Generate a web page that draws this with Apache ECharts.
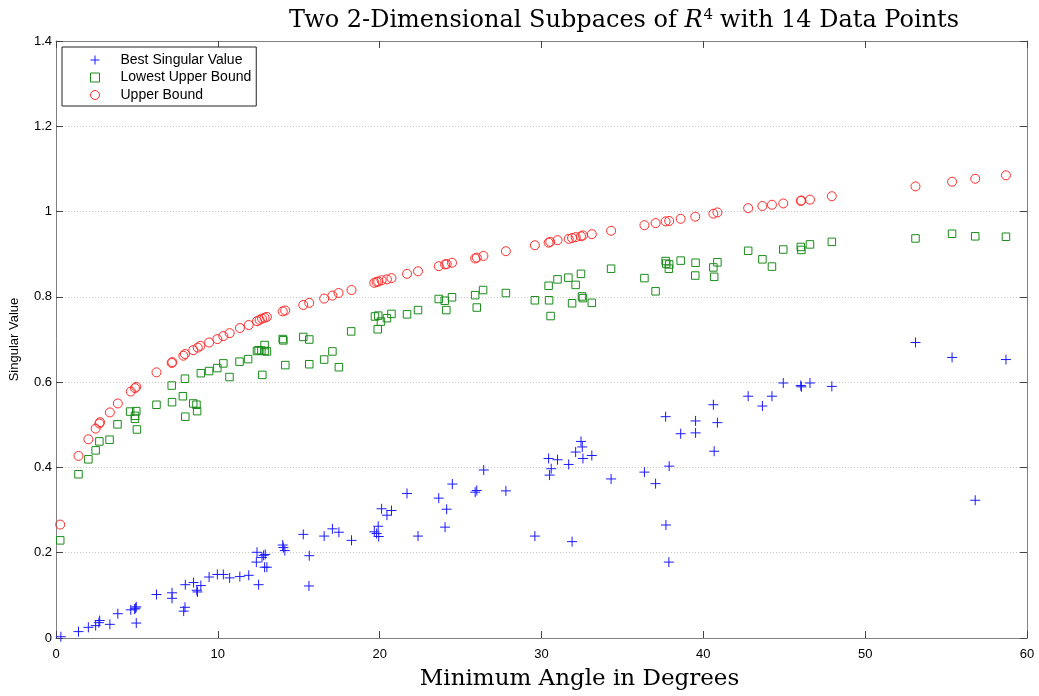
<!DOCTYPE html>
<html>
<head>
<meta charset="utf-8">
<script src="https://cdn.jsdelivr.net/npm/echarts@6/dist/echarts.min.js"></script>
<style>
  html, body { margin: 0; padding: 0; background: #fff; overflow: hidden; }
  #chart { width: 1039px; height: 696px; }
</style>
</head>
<body>
<div id="chart"></div>
<script>
// Minimum angle (degrees) vs. singular value, one [angle, value] pair per data point.
const bestSingularValue = [
  [0.3,0.003],[1.39,0.015],[2.0,0.025],[2.45,0.029],[2.65,0.036],[2.7,0.041],[3.33,0.032],[3.82,0.057],
  [4.62,0.066],[4.86,0.068],[4.92,0.070],[4.96,0.073],[4.96,0.035],[6.21,0.102],[7.17,0.106],[7.17,0.093],
  [7.89,0.063],[7.97,0.072],[7.99,0.125],[8.5,0.130],[8.7,0.112],[8.74,0.108],[8.95,0.123],[9.46,0.143],
  [9.97,0.149],[10.34,0.149],[10.73,0.141],[11.36,0.144],[11.91,0.147],[12.38,0.178],[12.42,0.201],[12.52,0.125],
  [12.73,0.189],[12.83,0.194],[12.93,0.196],[12.89,0.166],[13.03,0.166],[14.01,0.218],[14.05,0.212],[14.14,0.205],
  [15.28,0.243],[15.65,0.193],[15.63,0.122],[16.57,0.239],[17.08,0.256],[17.48,0.248],[18.26,0.229],[19.67,0.249],
  [19.81,0.245],[19.91,0.262],[19.94,0.238],[20.12,0.303],[20.45,0.288],[20.73,0.299],[21.69,0.339],[22.37,0.239],
  [23.65,0.328],[24.04,0.260],[24.14,0.302],[24.49,0.361],[25.9,0.342],[26.0,0.346],[26.43,0.394],[27.8,0.345],
  [29.59,0.239],[30.44,0.421],[30.5,0.382],[30.6,0.397],[30.99,0.418],[31.68,0.407],[31.89,0.226],[32.11,0.436],
  [32.44,0.461],[32.52,0.448],[32.56,0.421],[33.11,0.428],[34.3,0.373],[36.36,0.389],[37.05,0.362],[37.67,0.519],
  [37.69,0.265],[37.87,0.178],[37.89,0.403],[38.6,0.479],[39.52,0.509],[39.52,0.481],[40.62,0.547],[40.67,0.438],
  [40.87,0.505],[42.77,0.567],[43.65,0.544],[44.24,0.567],[44.94,0.598],[46.02,0.592],[46.06,0.589],[46.59,0.598],
  [47.94,0.590],[53.11,0.693],[55.37,0.658],[56.8,0.323],[58.7,0.653]
];

const lowestUpperBound = [
  [0.26,0.229],[1.39,0.384],[2.0,0.419],[2.45,0.440],[2.68,0.461],[3.31,0.465],[3.8,0.501],[4.58,0.531],
  [4.88,0.521],[4.88,0.514],[4.96,0.532],[5.0,0.489],[6.21,0.547],[7.15,0.592],[7.17,0.553],[7.84,0.567],
  [7.97,0.608],[7.99,0.519],[8.48,0.550],[8.68,0.547],[8.72,0.532],[8.95,0.621],[9.46,0.626],[9.97,0.633],
  [10.34,0.644],[10.72,0.612],[11.34,0.648],[11.87,0.654],[12.42,0.673],[12.52,0.675],[12.69,0.674],[12.75,0.617],
  [12.89,0.673],[12.89,0.687],[13.03,0.672],[14.01,0.701],[14.05,0.698],[14.17,0.640],[15.28,0.706],[15.65,0.700],
  [15.65,0.642],[16.57,0.653],[17.08,0.672],[17.48,0.635],[18.24,0.719],[19.71,0.754],[19.91,0.756],[19.88,0.724],
  [20.08,0.742],[20.45,0.750],[20.73,0.760],[21.69,0.759],[22.37,0.769],[23.65,0.795],[24.02,0.791],[24.12,0.769],
  [24.47,0.799],[25.9,0.804],[26.0,0.775],[26.39,0.816],[27.8,0.809],[29.59,0.792],[30.44,0.826],[30.47,0.792],
  [30.56,0.755],[30.99,0.841],[31.66,0.845],[31.89,0.785],[32.11,0.828],[32.44,0.854],[32.5,0.801],[32.56,0.797],
  [33.11,0.786],[34.3,0.866],[36.36,0.844],[37.05,0.813],[37.67,0.884],[37.71,0.878],[37.87,0.866],[37.89,0.876],
  [38.6,0.885],[39.52,0.880],[39.5,0.850],[40.62,0.869],[40.87,0.881],[40.67,0.847],[42.77,0.908],[43.65,0.888],
  [44.24,0.871],[44.94,0.911],[46.02,0.917],[46.06,0.910],[46.59,0.923],[47.94,0.929],[53.11,0.937],[55.37,0.948],
  [56.8,0.942],[58.7,0.941]
];

const upperBound = [
  [0.26,0.266],[1.39,0.427],[2.0,0.466],[2.45,0.491],[2.68,0.503],[2.72,0.506],[3.33,0.529],[3.82,0.550],
  [4.62,0.578],[4.88,0.586],[4.96,0.589],[6.21,0.623],[7.15,0.645],[7.19,0.647],[7.87,0.662],[7.97,0.666],
  [8.48,0.675],[8.76,0.681],[8.92,0.685],[9.46,0.693],[9.97,0.701],[10.34,0.708],[10.73,0.715],[11.36,0.727],
  [11.91,0.734],[12.42,0.743],[12.58,0.746],[12.73,0.749],[12.89,0.751],[13.03,0.753],[14.01,0.766],[14.16,0.768],
  [15.28,0.781],[15.65,0.786],[16.57,0.796],[17.08,0.803],[17.46,0.809],[18.26,0.816],[19.67,0.833],[19.81,0.835],
  [19.91,0.836],[20.12,0.839],[20.45,0.841],[20.73,0.844],[21.69,0.854],[22.37,0.860],[23.65,0.872],[24.04,0.876],
  [24.14,0.877],[24.47,0.880],[25.9,0.890],[26.0,0.892],[26.41,0.896],[27.8,0.907],[29.59,0.921],[30.44,0.927],
  [30.54,0.929],[30.99,0.933],[31.68,0.936],[31.89,0.938],[32.11,0.940],[32.44,0.942],[32.56,0.944],[33.11,0.947],
  [34.3,0.955],[36.36,0.968],[37.05,0.973],[37.67,0.977],[37.89,0.978],[38.6,0.983],[39.5,0.988],[40.62,0.995],
  [40.87,0.998],[42.77,1.008],[43.65,1.013],[44.24,1.016],[44.94,1.019],[46.02,1.025],[46.06,1.026],[46.59,1.028],
  [47.94,1.036],[53.11,1.059],[55.37,1.070],[56.8,1.077],[58.7,1.085]
];

const seriesNames = ['Best Singular Value', 'Lowest Upper Bound', 'Upper Bound'];
const xTicks = { min: 0, max: 60, interval: 10 };
const yTicks = { min: 0, max: 1.4, interval: 0.2 };

// '+' marker drawn as two strokes
const PLUS = 'path://M0,5L10,5M5,0L5,10';
const serifFont = '"DejaVu Serif", "Liberation Serif", serif';
const sansFont = '"Liberation Sans", Arial, sans-serif';

const chart = echarts.init(document.getElementById('chart'), null, { renderer: 'canvas' });

const tickCommon = {
  axisLine: { show: true, onZero: false, lineStyle: { color: '#808080', width: 1 } },
  axisTick: { show: true, inside: true, length: 7, lineStyle: { color: '#444', width: 1 } }
};

chart.setOption({
  animation: false,
  backgroundColor: '#fff',
  title: {
    left: 284,
    top: 3,
    text: '{a|Two 2-Dimensional Subpaces of }{i|R}{s|4}{a|with 14 Data Points}',
    textStyle: {
      fontWeight: 'normal',
      rich: {
        a: { fontFamily: serifFont, fontSize: 24, fontWeight: 'normal', color: '#000' },
        i: { fontFamily: serifFont, fontSize: 24, fontWeight: 'normal', fontStyle: 'italic', color: '#000' },
        s: { fontFamily: serifFont, fontSize: 15, fontWeight: 'normal', color: '#000', verticalAlign: 'top', padding: [0, 7, 11, 1] }
      }
    }
  },
  legend: {
    orient: 'vertical',
    left: 62,
    top: 47,
    backgroundColor: '#fff',
    borderColor: '#222',
    borderWidth: 1,
    borderRadius: 0,
    padding: [6, 5, 4, 26],
    itemGap: 3.5,
    itemWidth: 9,
    itemHeight: 9,
    itemStyle: { borderWidth: 1 },
    textStyle: { fontFamily: sansFont, fontSize: 14, color: '#000', padding: [0, 0, 0, 16] },
    data: seriesNames
  },
  grid: { left: 55, right: 12, top: 41, bottom: 51, containLabel: false },
  xAxis: [
    Object.assign({
      type: 'value', position: 'bottom',
      min: xTicks.min, max: xTicks.max, interval: xTicks.interval,
      name: 'Minimum Angle in Degrees',
      nameLocation: 'middle',
      nameGap: 30,
      nameTextStyle: { fontFamily: serifFont, fontSize: 23, color: '#000', padding: [0, 0, 0, 76] },
      axisLabel: { fontFamily: sansFont, fontSize: 13, color: '#000', margin: 10 },
      splitLine: { show: false }
    }, tickCommon),
    Object.assign({
      type: 'value', position: 'top',
      min: xTicks.min, max: xTicks.max, interval: xTicks.interval,
      axisLabel: { show: false },
      splitLine: { show: false }
    }, tickCommon)
  ],
  yAxis: [
    Object.assign({
      type: 'value', position: 'left',
      min: yTicks.min, max: yTicks.max, interval: yTicks.interval,
      name: 'Singular Value',
      nameLocation: 'middle',
      nameGap: 35,
      nameTextStyle: { fontFamily: sansFont, fontSize: 13, color: '#000' },
      axisLabel: { fontFamily: sansFont, fontSize: 13, color: '#000', margin: 4 },
      splitLine: { show: true, lineStyle: { color: '#c8c8c8', type: [1, 2], width: 1 } }
    }, tickCommon),
    Object.assign({
      type: 'value', position: 'right',
      min: yTicks.min, max: yTicks.max, interval: yTicks.interval,
      axisLabel: { show: false },
      splitLine: { show: false }
    }, tickCommon)
  ],
  series: [
    {
      name: seriesNames[0],
      type: 'scatter',
      data: bestSingularValue,
      symbol: PLUS,
      symbolSize: 10,
      itemStyle: { color: 'none', borderColor: '#1a1aff', borderWidth: 1, opacity: 1 },
      z: 3
    },
    {
      name: seriesNames[1],
      type: 'scatter',
      data: lowestUpperBound,
      symbol: 'rect',
      symbolSize: 7.5,
      itemStyle: { color: 'none', borderColor: '#1a8c1a', borderWidth: 1, opacity: 1 },
      z: 2
    },
    {
      name: seriesNames[2],
      type: 'scatter',
      data: upperBound,
      symbol: 'circle',
      symbolSize: 9,
      itemStyle: { color: 'none', borderColor: '#ff2a2a', borderWidth: 1, opacity: 1 },
      z: 1
    }
  ]
});
</script>
</body>
</html>
